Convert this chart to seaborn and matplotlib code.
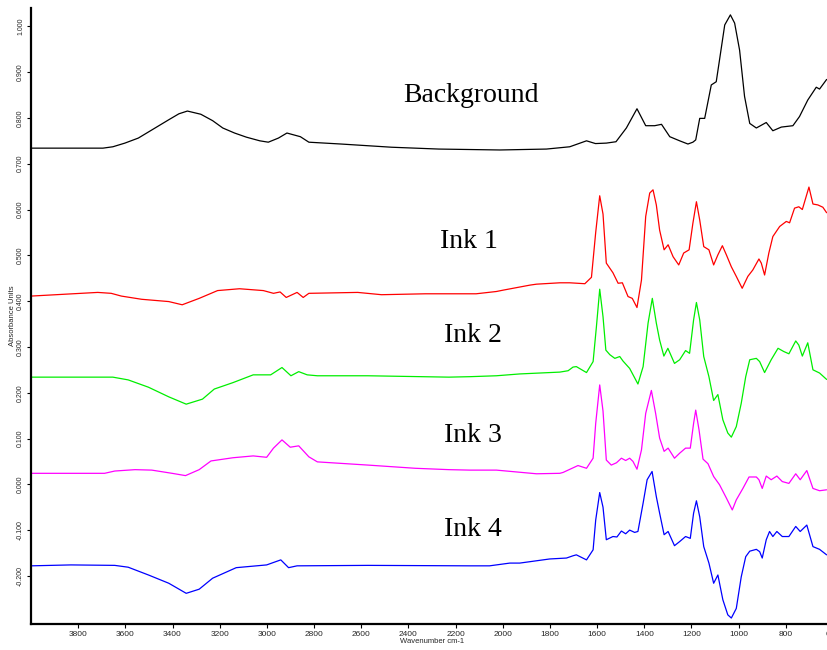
import numpy as np
import pandas as pd
import matplotlib
matplotlib.use("Agg")
import matplotlib.pyplot as plt
import seaborn as sns

# FTIR spectra: background paper and four inks
bg_wn = [4000, 3695, 3653, 3602, 3545, 3474, 3416, 3373, 3337, 3280, 3230, 3187, 3137, 3087,
         3030, 2994, 2951, 2915, 2858, 2822,
         2686, 2471, 2271, 2012, 1815, 1716, 1645, 1607, 1561, 1520, 1476, 1431, 1394, 1356,
         1327, 1292, 1250, 1215, 1194, 1182, 1165, 1144, 1116, 1095, 1081, 1059, 1035, 1017,
         996, 975, 953, 925, 883, 855, 819, 770, 742, 707, 671, 657, 627]
bg_abs = [0.734, 0.734, 0.737, 0.745, 0.756, 0.778, 0.796, 0.809, 0.815, 0.808, 0.794, 0.778,
          0.767, 0.758, 0.750, 0.747, 0.756, 0.767,
          0.759, 0.747, 0.743, 0.736, 0.732, 0.730, 0.732, 0.737, 0.750, 0.744, 0.745, 0.748,
          0.778, 0.820, 0.783, 0.783, 0.786, 0.759, 0.750, 0.743, 0.747, 0.752, 0.799, 0.799,
          0.872, 0.879, 0.927, 1.003, 1.025, 1.007, 0.948, 0.847, 0.788, 0.778, 0.790, 0.772,
          0.780, 0.783, 0.803, 0.839, 0.867, 0.863, 0.884]

ink1_wn = [4000, 3717, 3660, 3617, 3531, 3416, 3359, 3287, 3209, 3116, 3015, 2972, 2944, 2918,
           2872, 2846, 2822, 2615, 2514, 2328, 2113, 2027, 1998, 1884, 1857, 1758, 1716, 1652,
           1624, 1606, 1589, 1575, 1561, 1533, 1511, 1493, 1469, 1451, 1431, 1412, 1394, 1377,
           1363, 1349, 1335, 1316, 1299, 1278, 1254, 1233, 1210, 1194, 1179, 1165, 1148, 1126,
           1106, 1088, 1069, 1052, 1031, 1010, 985, 961, 940, 914, 904, 890, 872, 855, 826, 798,
           784, 763, 745, 730, 702, 685, 664, 643, 627]
ink1_abs = [0.411, 0.419, 0.417, 0.411, 0.404, 0.399, 0.392, 0.406, 0.423, 0.427, 0.423, 0.417,
            0.420, 0.408, 0.419, 0.408, 0.417, 0.419, 0.414, 0.416, 0.416, 0.421, 0.424, 0.435,
            0.437, 0.440, 0.440, 0.438, 0.452, 0.550, 0.630, 0.590, 0.483, 0.462, 0.439, 0.440,
            0.410, 0.406, 0.386, 0.446, 0.585, 0.636, 0.643, 0.610, 0.555, 0.512, 0.523, 0.497,
            0.479, 0.505, 0.512, 0.570, 0.617, 0.577, 0.519, 0.512, 0.479, 0.501, 0.521, 0.501,
            0.475, 0.454, 0.428, 0.454, 0.468, 0.492, 0.483, 0.457, 0.505, 0.541, 0.563, 0.574,
            0.571, 0.603, 0.606, 0.600, 0.649, 0.612, 0.610, 0.605, 0.593]

ink2_wn = [4000, 3653, 3588, 3502, 3416, 3342, 3273, 3223, 3144, 3058, 2984, 2936, 2898, 2865,
           2829, 2786, 2572, 2228, 2140, 2027, 1928, 1758, 1723, 1702, 1688, 1645, 1617, 1603,
           1589, 1575, 1563, 1546, 1525, 1504, 1490, 1462, 1427, 1405, 1384, 1366, 1349, 1335,
           1317, 1300, 1272, 1250, 1225, 1208, 1191, 1179, 1165, 1148, 1126, 1106, 1088, 1067,
           1046, 1031, 1010, 989, 970, 953, 925, 911, 890, 862, 833, 809, 787, 758, 745, 730,
           707, 685, 657, 627]
ink2_abs = [0.234, 0.234, 0.228, 0.212, 0.191, 0.175, 0.186, 0.208, 0.222, 0.239, 0.239, 0.255,
            0.237, 0.246, 0.239, 0.237, 0.237, 0.234, 0.235, 0.237, 0.241, 0.245, 0.248, 0.256,
            0.257, 0.244, 0.268, 0.344, 0.426, 0.366, 0.293, 0.283, 0.275, 0.279, 0.269, 0.253,
            0.219, 0.257, 0.352, 0.406, 0.352, 0.315, 0.280, 0.297, 0.264, 0.272, 0.292, 0.286,
            0.359, 0.397, 0.359, 0.279, 0.235, 0.183, 0.196, 0.141, 0.112, 0.103, 0.126, 0.177,
            0.235, 0.272, 0.275, 0.268, 0.244, 0.272, 0.297, 0.290, 0.285, 0.313, 0.304, 0.280,
            0.309, 0.250, 0.243, 0.229]

ink3_wn = [4000, 3817, 3688, 3645, 3559, 3488, 3402, 3345, 3287, 3237, 3144, 3058, 3001, 2972,
           2936, 2901, 2865, 2822, 2786, 2572, 2371, 2228, 2140, 2027, 1857, 1758, 1744, 1681,
           1645, 1617, 1606, 1589, 1575, 1561, 1540, 1518, 1497, 1479, 1462, 1448, 1431, 1412,
           1394, 1370, 1352, 1335, 1316, 1299, 1272, 1250, 1225, 1205, 1191, 1182, 1168, 1151,
           1130, 1106, 1081, 1052, 1027, 1010, 982, 956, 925, 914, 900, 883, 862, 838, 815, 787,
           758, 739, 711, 685, 657, 627]
ink3_abs = [0.024, 0.024, 0.024, 0.029, 0.032, 0.031, 0.024, 0.019, 0.032, 0.051, 0.058, 0.062,
            0.059, 0.079, 0.097, 0.081, 0.084, 0.060, 0.049, 0.042, 0.035, 0.032, 0.031, 0.031,
            0.023, 0.024, 0.026, 0.041, 0.035, 0.057, 0.133, 0.217, 0.160, 0.053, 0.042, 0.047,
            0.057, 0.052, 0.057, 0.050, 0.033, 0.075, 0.155, 0.205, 0.155, 0.101, 0.072, 0.079,
            0.057, 0.068, 0.079, 0.079, 0.133, 0.162, 0.119, 0.055, 0.045, 0.017, -0.001, -0.030,
            -0.056, -0.034, -0.009, 0.016, 0.016, 0.010, -0.009, 0.018, 0.010, 0.018, 0.006,
            0.002, 0.023, 0.010, 0.030, -0.009, -0.014, -0.012]

ink4_wn = [4000, 3831, 3645, 3588, 3502, 3416, 3342, 3287, 3230, 3130, 3001, 2941, 2908, 2872,
           2572, 2140, 2056, 1970, 1928, 1801, 1730, 1702, 1688, 1645, 1617, 1606, 1589, 1575,
           1561, 1533, 1516, 1497, 1479, 1462, 1441, 1427, 1405, 1388, 1367, 1349, 1335, 1316,
           1299, 1272, 1250, 1225, 1205, 1191, 1179, 1165, 1148, 1126, 1106, 1088, 1067, 1046,
           1031, 1010, 989, 970, 953, 925, 911, 900, 883, 869, 855, 838, 815, 787, 758, 739, 711,
           685, 657, 627]
ink4_abs = [-0.178, -0.176, -0.177, -0.181, -0.198, -0.216, -0.238, -0.229, -0.205, -0.182,
            -0.176, -0.165, -0.182, -0.178, -0.177, -0.178, -0.178, -0.172, -0.172, -0.163,
            -0.161, -0.156, -0.154, -0.165, -0.143, -0.078, -0.018, -0.050, -0.121, -0.114,
            -0.115, -0.102, -0.108, -0.100, -0.105, -0.103, -0.041, 0.010, 0.028, -0.027,
            -0.063, -0.110, -0.103, -0.134, -0.125, -0.114, -0.118, -0.063, -0.036, -0.071,
            -0.136, -0.172, -0.216, -0.198, -0.252, -0.285, -0.292, -0.271, -0.202, -0.158,
            -0.146, -0.142, -0.147, -0.161, -0.121, -0.103, -0.114, -0.103, -0.114, -0.114,
            -0.092, -0.103, -0.089, -0.136, -0.142, -0.154]

series = [
    ("Background", bg_wn, bg_abs, "#000000"),
    ("Ink 1", ink1_wn, ink1_abs, "#ff0000"),
    ("Ink 2", ink2_wn, ink2_abs, "#00ee00"),
    ("Ink 3", ink3_wn, ink3_abs, "#ff00ff"),
    ("Ink 4", ink4_wn, ink4_abs, "#0000ff"),
]

# label anchors (left edge, baseline) in data units
label_wn = [2423, 2265, 2250, 2250, 2250]
label_abs = [0.835, 0.516, 0.311, 0.093, -0.112]

x_ticks = list(range(3800, 599, -200))
y_ticks = [1.0, 0.9, 0.8, 0.7, 0.6, 0.5, 0.4, 0.3, 0.2, 0.1, 0.0, -0.1, -0.2]

sns.set_theme(style="white")
plt.rcParams["font.family"] = ["Liberation Sans", "DejaVu Sans"]

fig = plt.figure(figsize=(8.27, 6.5), dpi=100)
ax = fig.add_axes([31 / 827, 26 / 650, 802 / 827, 616 / 650])

for name, wn, ab, col in series:
    df = pd.DataFrame({"wn": wn, "abs": ab})
    sns.lineplot(data=df, x="wn", y="abs", color=col, linewidth=0.9,
                 estimator=None, sort=False, ax=ax)

for (name, _, _, _), tx, ty in zip(series, label_wn, label_abs):
    ax.text(tx, ty, name, fontsize=20, family=["Liberation Serif", "DejaVu Serif"],
            ha="left", va="baseline", color="black")

ax.set_xlim(4000, 600)
ax.set_ylim(-0.305, 1.040)

ax.set_xticks(x_ticks)
ax.set_xticklabels([str(t) for t in x_ticks], fontsize=6)
ax.set_yticks(y_ticks)
ax.set_yticklabels([f"{t:.3f}" for t in y_ticks], fontsize=5, rotation=90, va="center")
ax.tick_params(axis="both", which="both", bottom=True, left=True, direction="out",
               length=3, width=0.8, color="black", pad=2)

ax.set_xlabel("Wavenumber cm-1", fontsize=5.5, labelpad=0)
ax.set_ylabel("Absorbance Units", fontsize=5.5, labelpad=1)

for side in ["top", "right"]:
    ax.spines[side].set_visible(False)
for side in ["left", "bottom"]:
    ax.spines[side].set_color("black")
    ax.spines[side].set_linewidth(1.6)

ax.grid(False)
fig.savefig("out.png", dpi=100)
